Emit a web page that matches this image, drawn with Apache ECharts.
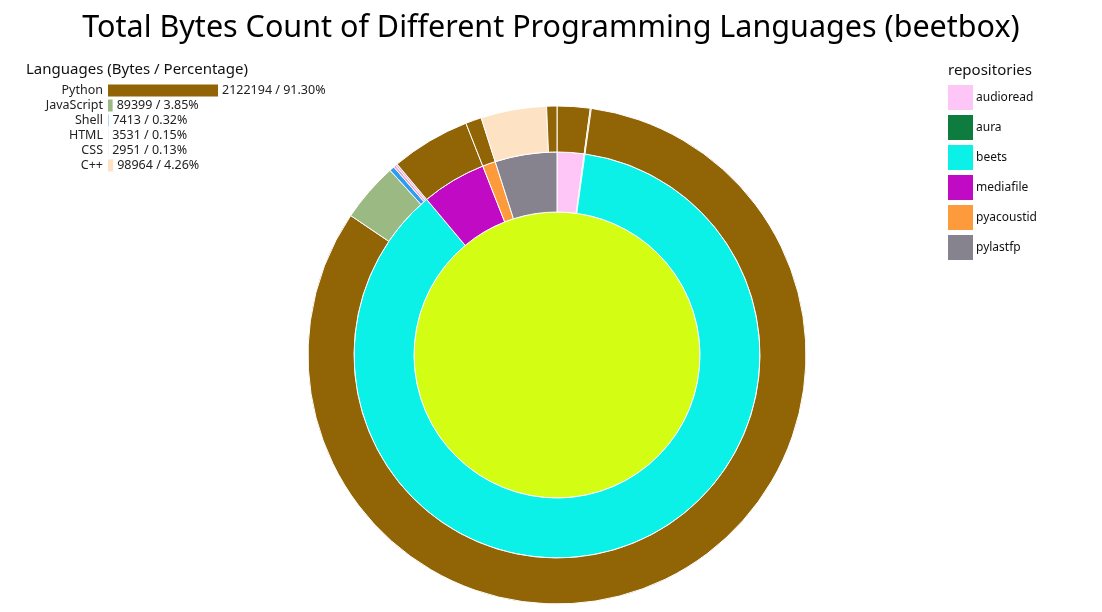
<!DOCTYPE html>
<html>
<head>
<meta charset="utf-8">
<script src="https://cdn.jsdelivr.net/npm/echarts@6/dist/echarts.min.js"></script>
<style>
  html, body { margin: 0; padding: 0; background: #fff; }
  #main { width: 1102px; height: 612px; }
</style>
</head>
<body>
<div id="main"></div>
<script>
// language totals (left bars)
var languages = ['Python', 'JavaScript', 'Shell', 'HTML', 'CSS', 'C++'];
var languageBytes = [2122194, 89399, 7413, 3531, 2951, 98964];
var languageColors = ['#916405', '#9bb982', '#2d9df0', '#f29cc4', '#dcb2e6', '#fde3c3'];

// repositories (middle ring) and their languages (outer ring)
var repos = ['audioread', 'aura', 'beets', 'mediafile', 'pyacoustid', 'pylastfp'];
var repoColors = ['#fec6f6', '#0e7c3f', '#0bf1e8', '#c10ac4', '#fd9a3b', '#86838f'];
var audioread = [['Python', 49700]];
var aura = [['Python', 1500]];
var beets = [['Python', 1911994], ['JavaScript', 89399], ['Shell', 7413], ['HTML', 3531], ['CSS', 2951]];
var mediafile = [['Python', 119500]];
var pyacoustid = [['Python', 24000]];
var pylastfp = [['C++', 98964], ['Python', 15500]];
var repoLanguages = [audioread, aura, beets, mediafile, pyacoustid, pylastfp];

var rootName = 'beetbox';
var rootColor = '#d3fd12';

var total = languageBytes.reduce(function (a, b) { return a + b; }, 0);

function langColor(name) {
	return languageColors[languages.indexOf(name)];
}

var tree = [{
	name: rootName,
	itemStyle: {color: rootColor},
	children: repos.map(function (r, i) {
		return {
			name: r,
			itemStyle: {color: repoColors[i]},
			children: repoLanguages[i].map(function (l) {
				return {name: l[0], value: l[1], itemStyle: {color: langColor(l[0])}};
			})
		};
	})
}];

// right legend drawn as graphic items
var legendItems = [];
repos.forEach(function (r, i) {
	legendItems.push({
		type: 'rect',
		left: 948,
		top: 85 + i * 30,
		shape: {width: 25, height: 25},
		style: {fill: repoColors[i]}
	});
	legendItems.push({
		type: 'text',
		left: 976,
		top: 92 + i * 30,
		style: {text: r, fontSize: 12, fill: '#111', fontFamily: 'Noto Sans'}
	});
});

var myChart = echarts.init(document.getElementById('main'));

var option = {
	animation: false,
	textStyle: {fontFamily: 'Noto Sans'},
	title: [
		{
			text: 'Total Bytes Count of Different Programming Languages (' + rootName + ')',
			left: 'center',
			top: 8,
			textStyle: {fontSize: 30.5, fontWeight: 'normal', color: '#000', fontFamily: 'Noto Sans'}
		},
		{
			text: 'Languages (Bytes / Percentage)',
			left: 21,
			top: 57,
			textStyle: {fontSize: 15, fontWeight: 'normal', color: '#111', fontFamily: 'Noto Sans'}
		},
		{
			text: 'repositories',
			left: 943,
			top: 58,
			textStyle: {fontSize: 15, fontWeight: 'normal', color: '#111', fontFamily: 'Noto Sans'}
		}
	],
	grid: {left: 108, top: 83, width: 110, height: 90},
	xAxis: {
		type: 'value',
		min: 0,
		max: languageBytes[0],
		show: false
	},
	yAxis: {
		type: 'category',
		data: languages,
		inverse: true,
		axisLine: {show: false},
		axisTick: {show: false},
		axisLabel: {fontSize: 12.5, color: '#222', margin: 5, interval: 0, hideOverlap: false}
	},
	series: [
		{
			type: 'bar',
			barWidth: 12,
			silent: true,
			data: languageBytes.map(function (v, i) {
				return {value: v, itemStyle: {color: languageColors[i]}};
			}),
			label: {
				show: true,
				position: 'right',
				distance: 4,
				fontSize: 12.5,
				color: '#222',
				formatter: function (p) {
					return p.value + ' / ' + (p.value / total * 100).toFixed(2) + '%';
				}
			}
		},
		{
			type: 'sunburst',
			center: [557, 355],
			sort: null,
			startAngle: 90,
			nodeClick: false,
			data: tree,
			label: {show: false},
			emphasis: {disabled: true},
			itemStyle: {borderColor: '#fff', borderWidth: 1},
			levels: [
				{},
				{r0: 0, r: 143},
				{r0: 143, r: 203},
				{r0: 203, r: 249}
			]
		}
	],
	graphic: legendItems
};
myChart.setOption(option);
</script>
</body>
</html>
